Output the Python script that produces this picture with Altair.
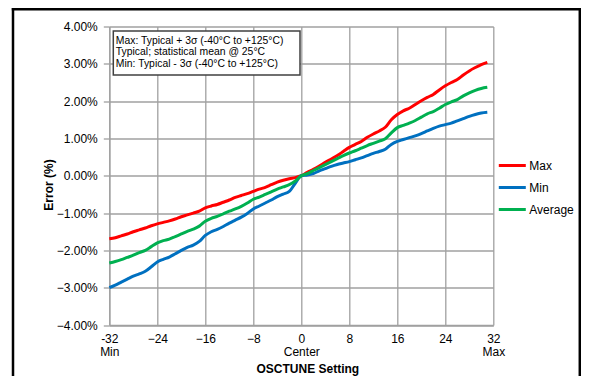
import altair as alt
import pandas as pd

osctune = list(range(-32, 32))

err_max = [-1.69, -1.66, -1.61, -1.56, -1.50, -1.45, -1.40, -1.34,
           -1.29, -1.25, -1.21, -1.16, -1.10, -1.05, -1.00, -0.95,
           -0.86, -0.81, -0.77, -0.71, -0.65, -0.58, -0.53, -0.48,
           -0.42, -0.36, -0.31, -0.24, -0.17, -0.12, -0.08, -0.05,
           0.00, 0.09, 0.17, 0.26, 0.36, 0.45, 0.54, 0.65,
           0.76, 0.84, 0.92, 1.03, 1.12, 1.20, 1.30, 1.50,
           1.64, 1.74, 1.81, 1.91, 2.01, 2.10, 2.18, 2.30,
           2.41, 2.50, 2.58, 2.70, 2.81, 2.90, 2.98, 3.04]

err_min = [-3.00, -2.93, -2.85, -2.77, -2.69, -2.63, -2.56, -2.44,
           -2.31, -2.24, -2.18, -2.09, -2.00, -1.92, -1.86, -1.76,
           -1.60, -1.50, -1.44, -1.36, -1.27, -1.19, -1.11, -1.01,
           -0.89, -0.81, -0.73, -0.65, -0.56, -0.49, -0.42, -0.20,
           0.00, 0.02, 0.06, 0.13, 0.19, 0.25, 0.30, 0.34,
           0.38, 0.43, 0.48, 0.54, 0.60, 0.65, 0.71, 0.84,
           0.92, 0.97, 1.02, 1.07, 1.13, 1.20, 1.27, 1.33,
           1.37, 1.41, 1.47, 1.53, 1.59, 1.64, 1.68, 1.70]

err_avg = [-2.34, -2.30, -2.25, -2.19, -2.13, -2.06, -2.00, -1.90,
           -1.80, -1.74, -1.70, -1.63, -1.56, -1.49, -1.43, -1.35,
           -1.22, -1.14, -1.09, -1.02, -0.95, -0.89, -0.82, -0.73,
           -0.63, -0.57, -0.50, -0.43, -0.36, -0.30, -0.24, -0.14,
           0.00, 0.06, 0.14, 0.22, 0.30, 0.38, 0.46, 0.54,
           0.61, 0.67, 0.74, 0.81, 0.87, 0.93, 0.99, 1.15,
           1.29, 1.35, 1.41, 1.48, 1.57, 1.66, 1.72, 1.81,
           1.91, 1.98, 2.04, 2.14, 2.22, 2.29, 2.34, 2.37]

series_names = ["Max", "Min", "Average"]
series_colors = ["#FF0000", "#0070C0", "#00B050"]
x_ticks = [-32, -24, -16, -8, 0, 8, 16, 24, 32]
y_ticks = [-4, -3, -2, -1, 0, 1, 2, 3, 4]
note_lines = ["Max: Typical + 3\u03c3 (-40\u00b0C to +125\u00b0C)",
              "Typical; statistical mean @ 25\u00b0C",
              "Min: Typical - 3\u03c3 (-40\u00b0C to +125\u00b0C)"]

rows = []
for name, vals in zip(series_names, [err_max, err_min, err_avg]):
    for xv, yv in zip(osctune, vals):
        rows.append({"setting": xv, "error": yv, "series": name})
df = pd.DataFrame(rows)

FONT = "Liberation Sans"
GRID = "#A0A0A0"

W, H = 384, 298.5
PL, PT = 101.3, 18.5
PR = 573 - PL - W
PB = 368 - PT - H

x_lab = ("datum.value == -32 ? ['-32', 'Min'] : datum.value == 0 ? ['0', 'Center'] : "
         "datum.value == 32 ? ['32', 'Max'] : datum.label")

lines = alt.Chart(df).mark_line(strokeWidth=3, interpolate="monotone").encode(
    x=alt.X("setting:Q",
            scale=alt.Scale(domain=[-32, 32], nice=False, zero=False),
            axis=alt.Axis(values=x_ticks, labelExpr=x_lab, title="OSCTUNE Setting",
                          grid=True, gridColor=GRID, gridWidth=1.3,
                          domainColor=GRID, domainWidth=1.3, ticks=False,
                          labelFont=FONT, labelFontSize=12, labelColor="black",
                          labelLineHeight=13, labelPadding=8, labelFlush=False,
                          labelBaseline="top",
                          titleFont=FONT, titleFontSize=12, titleFontWeight="bold",
                          titleColor="black", titleX=198, titleY=43.5,
                          titleBaseline="middle", titleAlign="center")),
    y=alt.Y("error:Q",
            scale=alt.Scale(domain=[-4, 4], nice=False),
            axis=alt.Axis(values=y_ticks, labelExpr="format(datum.value, '.2f') + '%'",
                          title="Error (%)",
                          grid=True, gridColor=GRID, gridWidth=1.3,
                          domainColor=GRID, domainWidth=1.3,
                          ticks=True, tickSize=6, tickColor=GRID, tickWidth=1.3,
                          labelFont=FONT, labelFontSize=12, labelColor="black",
                          labelPadding=6,
                          titleFont=FONT, titleFontSize=12, titleFontWeight="bold",
                          titleColor="black", titleX=-61, titleY=158,
                          titleBaseline="middle", titleAlign="center", titleAngle=270)),
    color=alt.Color("series:N",
                    scale=alt.Scale(domain=series_names, range=series_colors),
                    legend=alt.Legend(orient="none", legendX=388, legendY=133,
                                      title=None, symbolType="stroke",
                                      symbolSize=729, symbolStrokeWidth=3,
                                      labelFont=FONT, labelFontSize=12,
                                      labelColor="black", labelOffset=2,
                                      clipHeight=12, rowPadding=10, padding=0)),
    order=alt.Order("setting:Q"),
)

box = alt.Chart(pd.DataFrame({"a": [0]})).mark_rect(
    fill="white", stroke="#404040", strokeWidth=1.5
).encode(x=alt.value(4), x2=alt.value(190.7), y=alt.value(4.5), y2=alt.value(48.5))

note = alt.Chart(pd.DataFrame({"a": [0]})).mark_text(
    align="left", baseline="middle", font=FONT, fontSize=10.4, lineHeight=11.7, color="black"
).encode(x=alt.value(6.5), y=alt.value(14), text=alt.value(note_lines))

frame_l = alt.Chart(pd.DataFrame({"a": [0]})).mark_rule(color="black", strokeWidth=2.5).encode(
    x=alt.value(-96.3), y=alt.value(-18.5), y2=alt.value(360))
frame_r = alt.Chart(pd.DataFrame({"a": [0]})).mark_rule(color="black", strokeWidth=2.5).encode(
    x=alt.value(470.5), y=alt.value(-18.5), y2=alt.value(360))
frame_t = alt.Chart(pd.DataFrame({"a": [0]})).mark_rule(color="black", strokeWidth=2.5).encode(
    x=alt.value(-97.5), x2=alt.value(471.7), y=alt.value(-17.2))

chart = alt.layer(lines, box, note, frame_l, frame_r, frame_t).properties(
    width=W, height=H,
    autosize=alt.AutoSizeParams(type="none"),
    padding={"left": PL, "top": PT, "right": PR, "bottom": PB},
    background="white",
).configure_view(strokeWidth=0)

chart.save("out.html", embed_options={"renderer": "svg", "actions": False})
